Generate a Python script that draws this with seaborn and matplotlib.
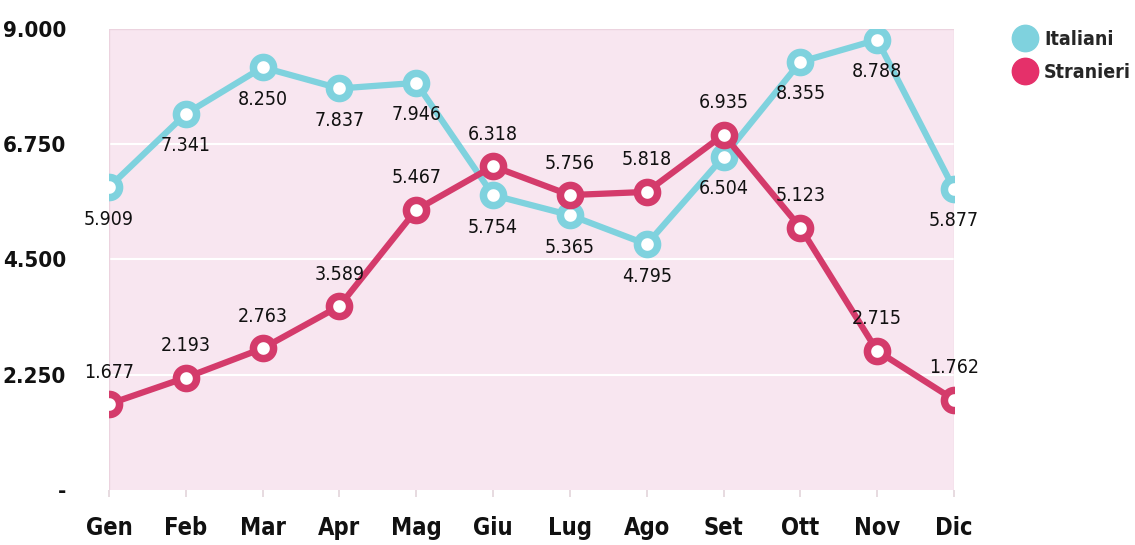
import numpy as np
import pandas as pd
import matplotlib
matplotlib.use('Agg')
import matplotlib.pyplot as plt
from matplotlib.lines import Line2D
import seaborn as sns

mesi = ['Gen', 'Feb', 'Mar', 'Apr', 'Mag', 'Giu', 'Lug', 'Ago', 'Set', 'Ott', 'Nov', 'Dic']
italiani = [5909, 7341, 8250, 7837, 7946, 5754, 5365, 4795, 6504, 8355, 8788, 5877]
stranieri = [1677, 2193, 2763, 3589, 5467, 6318, 5756, 5818, 6935, 5123, 2715, 1762]
y_ticks = [0, 2250, 4500, 6750, 9000]
y_labels = ['-', '2.250', '4.500', '6.750', '9.000']

col_ita = '#7fd2de'
col_str = '#d43b6b'
col_str_leg = '#e5306a'
bg = '#f8e6f0'

sns.set_theme(style='white')
plt.rcParams['font.family'] = ['DejaVu Sans']
plt.rcParams['font.stretch'] = 'condensed'

df = pd.DataFrame({'pos': range(len(mesi)), 'Italiani': italiani, 'Stranieri': stranieri})

fig = plt.figure(figsize=(11.35, 5.45), dpi=100)
ax = fig.add_axes([0.096, 0.101, 0.7445, 0.846])
ax.set_facecolor(bg)

for name, c in [('Italiani', col_ita), ('Stranieri', col_str)]:
    sns.lineplot(data=df, x='pos', y=name, ax=ax, color=c, linewidth=4.5,
                 marker='o', markersize=14.5, markerfacecolor='white',
                 markeredgecolor=c, markeredgewidth=5.4, zorder=3)

def fmt(v):
    return f'{v:,}'.replace(',', '.')

for i in range(len(mesi)):
    ax.annotate(fmt(italiani[i]), (i, italiani[i]), xytext=(0, -23), textcoords='offset points',
                ha='center', va='center', fontsize=14, color='#111111', zorder=4)
    ax.annotate(fmt(stranieri[i]), (i, stranieri[i]), xytext=(0, 23), textcoords='offset points',
                ha='center', va='center', fontsize=14, color='#111111', zorder=4)

ax.set_xlim(0, 11)
ax.set_ylim(0, 9000)
ax.set_yticks(y_ticks)
ax.set_yticklabels(y_labels, fontsize=16, fontweight='bold', color='#111111')
ax.set_xticks(range(len(mesi)))
ax.set_xticklabels(mesi, fontsize=17, fontweight='bold', color='#111111')
ax.set_xlabel('')
ax.set_ylabel('')
for t in y_ticks[1:-1]:
    ax.axhline(t, color='white', linewidth=1.5, zorder=1)
for s in ['top', 'right', 'bottom', 'left']:
    ax.spines[s].set_visible(False)
ax.axvline(0, color='#ecd3df', linewidth=1, zorder=1)
ax.axvline(11, color='#ecd3df', linewidth=1, zorder=1)
ax.axhline(9000, color='#ecd3df', linewidth=1, zorder=1)
ax.tick_params(axis='x', length=5, color='#e4d6dc', pad=14, direction='out', bottom=True)
ax.tick_params(axis='y', length=0, pad=31)
for lbl in ax.get_yticklabels():
    lbl.set_horizontalalignment('right')

handles = [Line2D([0], [0], marker='o', linestyle='', markersize=19, color=col_ita, label='Italiani'),
           Line2D([0], [0], marker='o', linestyle='', markersize=19, color=col_str_leg, label='Stranieri')]
leg = fig.legend(handles=handles, loc='upper left', bbox_to_anchor=(0.884, 0.96), frameon=False,
                 prop={'size': 14, 'weight': 'bold', 'stretch': 'condensed'},
                 handletextpad=0.3, handlelength=1.4, labelspacing=0.75, borderaxespad=0)

fig.savefig('out.png', dpi=100, facecolor='white')
